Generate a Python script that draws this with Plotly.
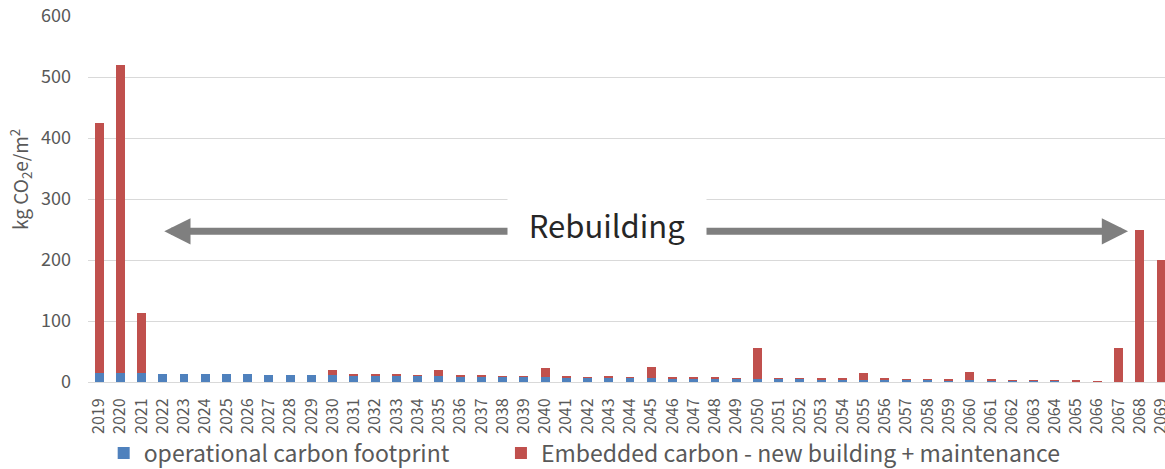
import plotly.graph_objects as go

years = list(range(2019, 2070))

operational = [14.5, 14.2, 14.0, 13.7, 13.4, 13.1, 12.8, 12.5, 12.3, 12.0,
               11.8, 11.5, 11.0, 10.7, 10.4, 10.1, 9.8, 9.5, 9.2, 8.9,
               8.6, 8.3, 8.0, 7.7, 7.4, 7.1, 6.8, 6.5, 6.2, 5.9,
               5.7, 5.5, 5.2, 5.0, 4.7, 4.4, 4.1, 3.8, 3.6, 3.3,
               3.0, 2.8, 2.5, 2.3, 2.0, 1.8, 1.5, 0.0, 0.0, 0.0,
               0.0]

embedded = [410, 505, 99, 0, 0, 0, 0, 0, 0, 0,
            0, 9, 1.5, 1, 1.5, 1, 10, 1.5, 1.5, 0.5,
            1, 15, 1, 0.5, 1.5, 0.5, 18, 1.5, 1, 1.5,
            0.5, 50, 0.5, 1, 0.5, 1.5, 10, 1.5, 1, 1.5,
            1, 13, 1, 0.3, 1, 0.3, 2.5, 0.5, 56, 250,
            200]

y_ticks = [0, 100, 200, 300, 400, 500, 600]

FONT = "Noto Sans CJK JP"
GREY = "#595959"

fig = go.Figure()
fig.add_trace(go.Bar(x=years, y=operational, name="operational carbon footprint",
                     marker=dict(color="#4f81bd", line=dict(width=0)), width=0.42,
                     legend="legend", showlegend=True))
fig.add_trace(go.Bar(x=years, y=embedded, name="Embedded carbon - new building + maintenance",
                     marker=dict(color="#c0504d", line=dict(width=0)), width=0.42,
                     legend="legend2", showlegend=True))

# double-headed arrow spanning the rebuilding period
fig.add_annotation(x=2067.45, y=247, ax=2022.0, ay=247, xref="x", yref="y",
                   axref="x", ayref="y", text="", showarrow=True,
                   arrowhead=2, arrowside="end+start", arrowsize=0.75,
                   arrowwidth=7, arrowcolor="#7f7f7f")
fig.add_annotation(x=2042.9, y=259, xref="x", yref="y", text="Rebuilding",
                   showarrow=False, bgcolor="white", width=196, height=58,
                   font=dict(family=FONT, size=31, color="#262626"))

# y-axis title
fig.add_annotation(x=-0.0622, y=0.552, xref="paper", yref="paper",
                   xanchor="center", yanchor="middle",
                   text="kg CO<sub>2</sub>e/m<sup>2</sup>",
                   showarrow=False, textangle=-90,
                   font=dict(family=FONT, size=19, color=GREY))

legend_common = dict(orientation="h", xref="container", yref="container",
                     y=0.034, xanchor="left", yanchor="middle",
                     font=dict(size=23, color=GREY), itemwidth=30,
                     bgcolor="rgba(0,0,0,0)", visible=True)

fig.update_layout(
    width=1165, height=469,
    margin=dict(l=88, r=0, t=16, b=87, autoexpand=False),
    barmode="stack",
    showlegend=True,
    plot_bgcolor="white", paper_bgcolor="white",
    font=dict(family=FONT, color=GREY),
    legend=dict(x=0.089, **legend_common),
    legend2=dict(x=0.4300, **legend_common),
    xaxis=dict(range=[2018.48, 2069.19], tickmode="array", tickvals=years,
               ticktext=[str(y) for y in years], tickangle=-90, automargin=False,
               ticklabeloverflow="allow", ticklabelstandoff=9,
               tickfont=dict(size=16, color=GREY), showgrid=False,
               showline=True, linecolor="#d9d9d9", linewidth=1, ticks=""),
    yaxis=dict(range=[0, 600], tickvals=y_ticks, automargin=False,
               tickfont=dict(size=18, color=GREY), ticklabelstandoff=16,
               gridcolor="#d9d9d9", gridwidth=1, zeroline=False),
)

fig.write_html("out.html")
